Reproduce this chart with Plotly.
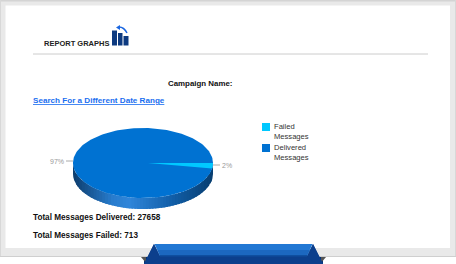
import math
import plotly.graph_objects as go

# ---- data ----
categories = ["Failed Messages", "Delivered Messages"]
legend_lines = ["Failed<br>Messages", "Delivered<br>Messages"]
values = [713, 27658]
percent_labels = ["2%", "97%"]
slice_colors = ["#00c8ff", "#0072d2"]
page_title = "REPORT GRAPHS"
campaign_text = "Campaign Name:"
link_text = "Search For a Different Date Range"
delivered_text = "Total Messages Delivered: 27658"
failed_text = "Total Messages Failed: 713"

FONT = "Liberation Sans, Arial, sans-serif"
CX, CY, RX, RY, DEPTH = 143.0, 163.0, 70.0, 35.0, 11.0
TIP_SHIFT = 5.0

fig = go.Figure()


def rect(x0, y0, x1, y1, color):
    fig.add_shape(type="rect", x0=x0, y0=y0, x1=x1, y1=y1,
                  fillcolor=color, line_width=0, layer="below")


def poly(points, color, layer="above"):
    path = "M" + " L".join(f"{x},{y}" for x, y in points) + " Z"
    fig.add_shape(type="path", path=path, fillcolor=color, line_width=0, layer=layer)


def lerp(a, b, t):
    return tuple(a[i] + (b[i] - a[i]) * t for i in range(3))


def ell(deg, dy=0.0, cx=CX):
    r = math.radians(deg)
    return cx + RX * math.cos(r), CY + dy + RY * math.sin(r)


# ---- page frame ----
rect(0, 0, 456, 257, "#e9e9e9")
rect(0, 0, 456, 1.5, "#d4d4d4")
rect(0, 0, 1, 257, "#d8d8d8")
rect(455, 0, 456, 257, "#d8d8d8")
rect(5.5, 5.5, 450, 248, "#ffffff")
rect(0, 256, 456, 257, "#cfcfcf")
rect(0, 257, 456, 264, "#ffffff")
fig.add_shape(type="line", x0=33, x1=428, y0=54, y1=54,
              line=dict(color="#cccccc", width=1), layer="below")

# ---- rim of the pie, shaded left to right ----
stops = [(0.0, (14, 62, 110)), (0.28, (40, 124, 205)), (0.40, (48, 134, 218)),
         (0.70, (18, 96, 170)), (1.0, (8, 62, 112))]


def rim_color(t):
    for (t0, c0), (t1, c1) in zip(stops, stops[1:]):
        if t <= t1:
            c = lerp(c0, c1, (t - t0) / (t1 - t0))
            return "rgb(%d,%d,%d)" % c
    return "rgb(%d,%d,%d)" % stops[-1][1]


N = 48
for i in range(N):
    x0 = CX - RX + 2 * RX * i / N
    x1 = min(CX - RX + 2 * RX * (i + 1) / N + 2.0, CX + RX)
    a0 = math.degrees(math.acos(max(-1, min(1, (x0 - CX) / RX))))
    a1 = math.degrees(math.acos(max(-1, min(1, (x1 - CX) / RX))))
    steps = [a0 + (a1 - a0) * k / 4 for k in range(5)]
    top = [ell(a) for a in steps]
    bot = [ell(a, DEPTH) for a in reversed(steps)]
    pts = top + bot + [top[0]]
    fig.add_trace(go.Scatter(
        x=[p[0] for p in pts], y=[p[1] for p in pts],
        mode="lines", line=dict(width=0), fill="toself",
        fillcolor=rim_color((i + 0.5) / N), hoverinfo="skip", showlegend=False))

# ---- top face, angles derived from the values ----
total = sum(values)
failed_deg = 360.0 * values[0] / total
delivered_pts = [ell(failed_deg + (360 - failed_deg) * i / 180) for i in range(181)]
fig.add_trace(go.Scatter(
    x=[p[0] for p in delivered_pts], y=[p[1] for p in delivered_pts],
    mode="lines", line=dict(width=0), fill="toself", fillcolor=slice_colors[1],
    name=categories[1], hoverinfo="name", showlegend=False))
failed_pts = [(CX + TIP_SHIFT, CY)] + [ell(failed_deg * i / 10) for i in range(11)]
failed_pts.append(failed_pts[0])
fig.add_trace(go.Scatter(
    x=[p[0] for p in failed_pts], y=[p[1] for p in failed_pts],
    mode="lines", line=dict(width=0), fill="toself", fillcolor=slice_colors[0],
    name=categories[0], hoverinfo="name", showlegend=False))

# ---- pie labels with leader lines ----
fig.add_shape(type="line", x0=66, x1=73, y0=161, y1=161, line=dict(color="#aaaaaa", width=1))
fig.add_shape(type="line", x0=213, x1=220, y0=165, y1=165, line=dict(color="#aaaaaa", width=1))


def text(x, y, s, size=9, color="#111111", anchor="left"):
    fig.add_annotation(x=x, y=y, text=s, showarrow=False, xanchor=anchor, yanchor="middle",
                       align="left", borderpad=0, borderwidth=0,
                       font=dict(family=FONT, size=size, color=color))


text(64, 161, percent_labels[1], 7, "#999999", "right")
text(222, 165, percent_labels[0], 7, "#999999")

# ---- legend ----
for y, c, lab in [(127, slice_colors[0], legend_lines[0]), (148, slice_colors[1], legend_lines[1])]:
    rect(262, y - 4, 270, y + 4, c)
    fig.add_annotation(x=274, y=y - 5, text=lab, showarrow=False, xanchor="left", yanchor="top",
                       align="left", borderpad=0, borderwidth=0,
                       font=dict(family=FONT, size=7.6, color="#333333"))

# ---- texts ----
text(44, 43.5, f"<b>{page_title}</b>", 7.5, "#222222")
text(168, 83, f"<b>{campaign_text}</b>", 7.9, "#111111")
text(33, 100.5, f"<b><u>{link_text}</u></b>", 8.1, "#1a6ef0")
text(33, 217, f"<b>{delivered_text}</b>", 8.2, "#111111")
text(33, 235, f"<b>{failed_text}</b>", 8.2, "#111111")

# ---- icon ----
rect(112, 30.5, 117, 45.5, "#0d3a80")
rect(118, 33, 122.5, 45.5, "#0d3a80")
rect(123.5, 36, 128.5, 45.5, "#0d3a80")
fig.add_shape(type="path", path="M119,27 Q124,27 127,33", line=dict(color="#1a66e0", width=1.5))
poly([(116, 27.5), (120, 25), (120, 30)], "#1a66e0")

# ---- ribbon at the bottom ----
poly([(141, 257), (146, 257), (146, 263)], "#555555")
poly([(321, 257), (326, 257), (321, 263)], "#555555")
poly([(144, 264), (154, 244), (160, 256), (307, 256), (313, 244), (323, 264)], "#0c3f8c")
rect(144, 257, 323, 264, "#002d72")
poly([(154.5, 244), (312.5, 244), (307, 256), (160, 256)], "#2278d4")
poly([(157.5, 250), (310, 250), (307, 256), (160, 256)], "#1c68c0")
poly([(159.5, 255), (307.5, 255), (307, 256.5), (160, 256.5)], "#0f4f9f")
poly([(144, 264), (154, 244), (160, 257), (150, 264)], "#0c3f8c")
poly([(323, 264), (313, 244), (307, 257), (317, 264)], "#0c3f8c")

fig.update_layout(
    width=456, height=264, margin=dict(l=0, r=0, t=0, b=0),
    paper_bgcolor="#ffffff", plot_bgcolor="#ffffff", showlegend=False,
    xaxis=dict(range=[0, 456], visible=False, fixedrange=True),
    yaxis=dict(range=[264, 0], visible=False, fixedrange=True),
)
fig.write_html("out.html", config={"displayModeBar": False},
               post_script="document.body.style.margin='0';document.body.style.overflow='hidden';")
